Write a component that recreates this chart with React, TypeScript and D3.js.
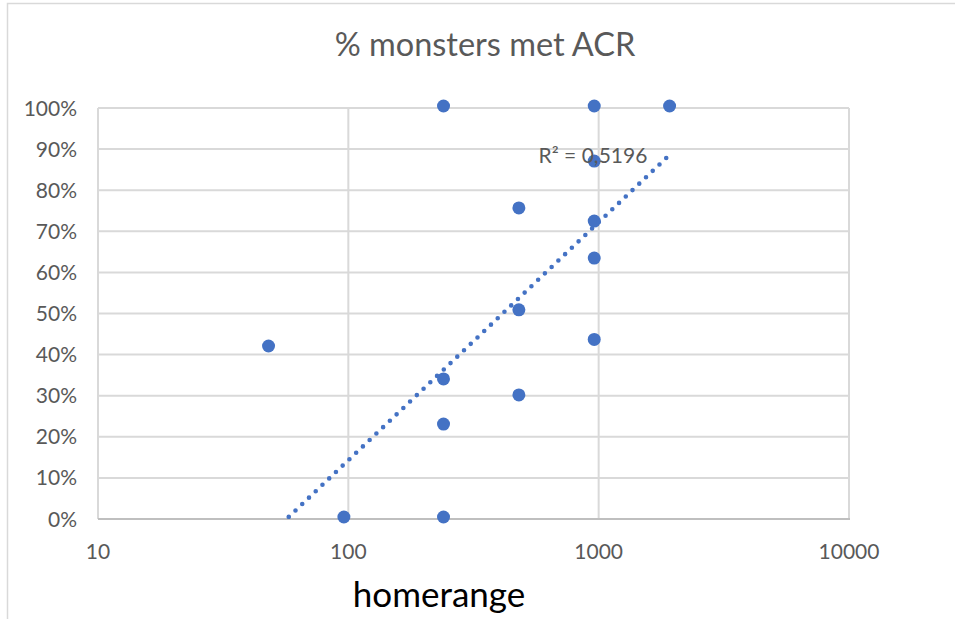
import { useEffect, useRef } from 'react'
import * as d3 from 'd3'

// values
const homerange = [48, 96, 240, 240, 240, 240, 480, 480, 480, 960, 960, 960, 960, 960, 1920]
const metAcr = [0.416, 0, 1, 0.336, 0.226, 0, 0.752, 0.504, 0.297, 1, 0.866, 0.72, 0.63, 0.432, 1]
const xTicks = [10, 100, 1000, 10000]
const yTicks = [0, 0.1, 0.2, 0.3, 0.4, 0.5, 0.6, 0.7, 0.8, 0.9, 1]
// logarithmic trendline: y = slope * log10(x) + intercept
const trendSlope = 0.579
const trendIntercept = -1.015
const rSquaredLabel = 'R² = 0,5196'
const chartTitle = '% monsters met ACR'
const xTitle = 'homerange'

const width = 955
const height = 619
const margin = { top: 108, right: 106, bottom: 100, left: 98 }

export default function App() {
  const svgRef = useRef<SVGSVGElement>(null)

  useEffect(() => {
    if (!svgRef.current) return
    const svg = d3.select(svgRef.current)
    svg.selectAll('*').remove()

    const innerWidth = width - margin.left - margin.right
    const innerHeight = height - margin.top - margin.bottom

    const xScale = d3.scaleLog().domain([10, 10000]).range([margin.left, margin.left + innerWidth])
    const yScale = d3.scaleLinear().domain([0, 1]).range([margin.top + innerHeight, margin.top])

    const font = 'Lato, "Open Sans", sans-serif'

    // chart frame (only the left and top edges fall inside the picture)
    svg.append('rect')
      .attr('x', 7.5).attr('y', 3.5)
      .attr('width', 1000).attr('height', 700)
      .attr('fill', '#fff')
      .attr('stroke', '#d9d9d9')
      .attr('stroke-width', 1.5)

    const defs = svg.append('defs')
    defs.append('clipPath').attr('id', 'plot-clip')
      .append('rect')
      .attr('x', margin.left).attr('y', margin.top)
      .attr('width', innerWidth).attr('height', innerHeight)

    // gridlines
    svg.append('g')
      .selectAll('line')
      .data(yTicks.filter(t => t > 0))
      .enter().append('line')
      .attr('x1', margin.left).attr('x2', margin.left + innerWidth)
      .attr('y1', d => yScale(d)).attr('y2', d => yScale(d))
      .attr('stroke', '#d9d9d9')
      .attr('stroke-width', 2)

    svg.append('g')
      .selectAll('line')
      .data(xTicks)
      .enter().append('line')
      .attr('x1', d => xScale(d)).attr('x2', d => xScale(d))
      .attr('y1', margin.top).attr('y2', margin.top + innerHeight)
      .attr('stroke', '#d9d9d9')
      .attr('stroke-width', 2)

    // horizontal axis line
    svg.append('line')
      .attr('x1', margin.left).attr('x2', margin.left + innerWidth + 1)
      .attr('y1', yScale(0)).attr('y2', yScale(0))
      .attr('stroke', '#bfbfbf')
      .attr('stroke-width', 2)

    // y tick labels
    svg.append('g')
      .selectAll('text')
      .data(yTicks)
      .enter().append('text')
      .attr('x', margin.left - 21)
      .attr('y', d => yScale(d))
      .attr('dy', '0.36em')
      .attr('text-anchor', 'end')
      .style('font-family', font)
      .style('font-size', '21px')
      .style('fill', '#595959')
      .text(d => d3.format('.0%')(d))

    // x tick labels
    svg.append('g')
      .selectAll('text')
      .data(xTicks)
      .enter().append('text')
      .attr('x', d => xScale(d))
      .attr('y', margin.top + innerHeight + 40)
      .attr('text-anchor', 'middle')
      .style('font-family', font)
      .style('font-size', '21px')
      .style('fill', '#595959')
      .text(d => String(d))

    // points
    svg.append('g')
      .attr('transform', 'translate(0,-2)')
      .selectAll('circle')
      .data(homerange.map((h, i) => ({ x: h, y: metAcr[i] })))
      .enter().append('circle')
      .attr('cx', d => xScale(d.x))
      .attr('cy', d => yScale(d.y))
      .attr('r', 6.5)
      .attr('fill', '#4472c4')

    // trendline
    const trend = (x: number) => trendSlope * Math.log10(x) + trendIntercept
    const [xMin, xMax] = d3.extent(homerange) as [number, number]
    const trendLine = d3.line<number>()
      .x(d => xScale(d))
      .y(d => yScale(trend(d)))

    svg.append('path')
      .datum([xMin, xMax])
      .attr('clip-path', 'url(#plot-clip)')
      .attr('d', trendLine)
      .attr('fill', 'none')
      .attr('stroke', '#4472c4')
      .attr('stroke-width', 4.6)
      .attr('stroke-linecap', 'round')
      .attr('stroke-dasharray', '0 9.3')

    svg.append('text')
      .attr('x', xScale(xMax) - 131)
      .attr('y', yScale(trend(xMax)) + 8)
      .style('font-family', font)
      .style('font-size', '21px')
      .style('fill', '#595959')
      .text(rSquaredLabel)

    // titles
    svg.append('text')
      .attr('x', 485)
      .attr('y', 56)
      .attr('text-anchor', 'middle')
      .style('font-family', font)
      .style('font-size', '32.5px')
      .style('fill', '#595959')
      .text(chartTitle)

    svg.append('text')
      .attr('x', 439)
      .attr('y', 607)
      .attr('text-anchor', 'middle')
      .style('font-family', font)
      .style('font-size', '35px')
      .style('fill', '#000')
      .text(xTitle)
  }, [])

  return (
    <svg
      ref={svgRef}
      width={width}
      height={height}
      style={{ position: 'absolute', left: 0, top: 0, background: '#fff' }}
    />
  )
}
